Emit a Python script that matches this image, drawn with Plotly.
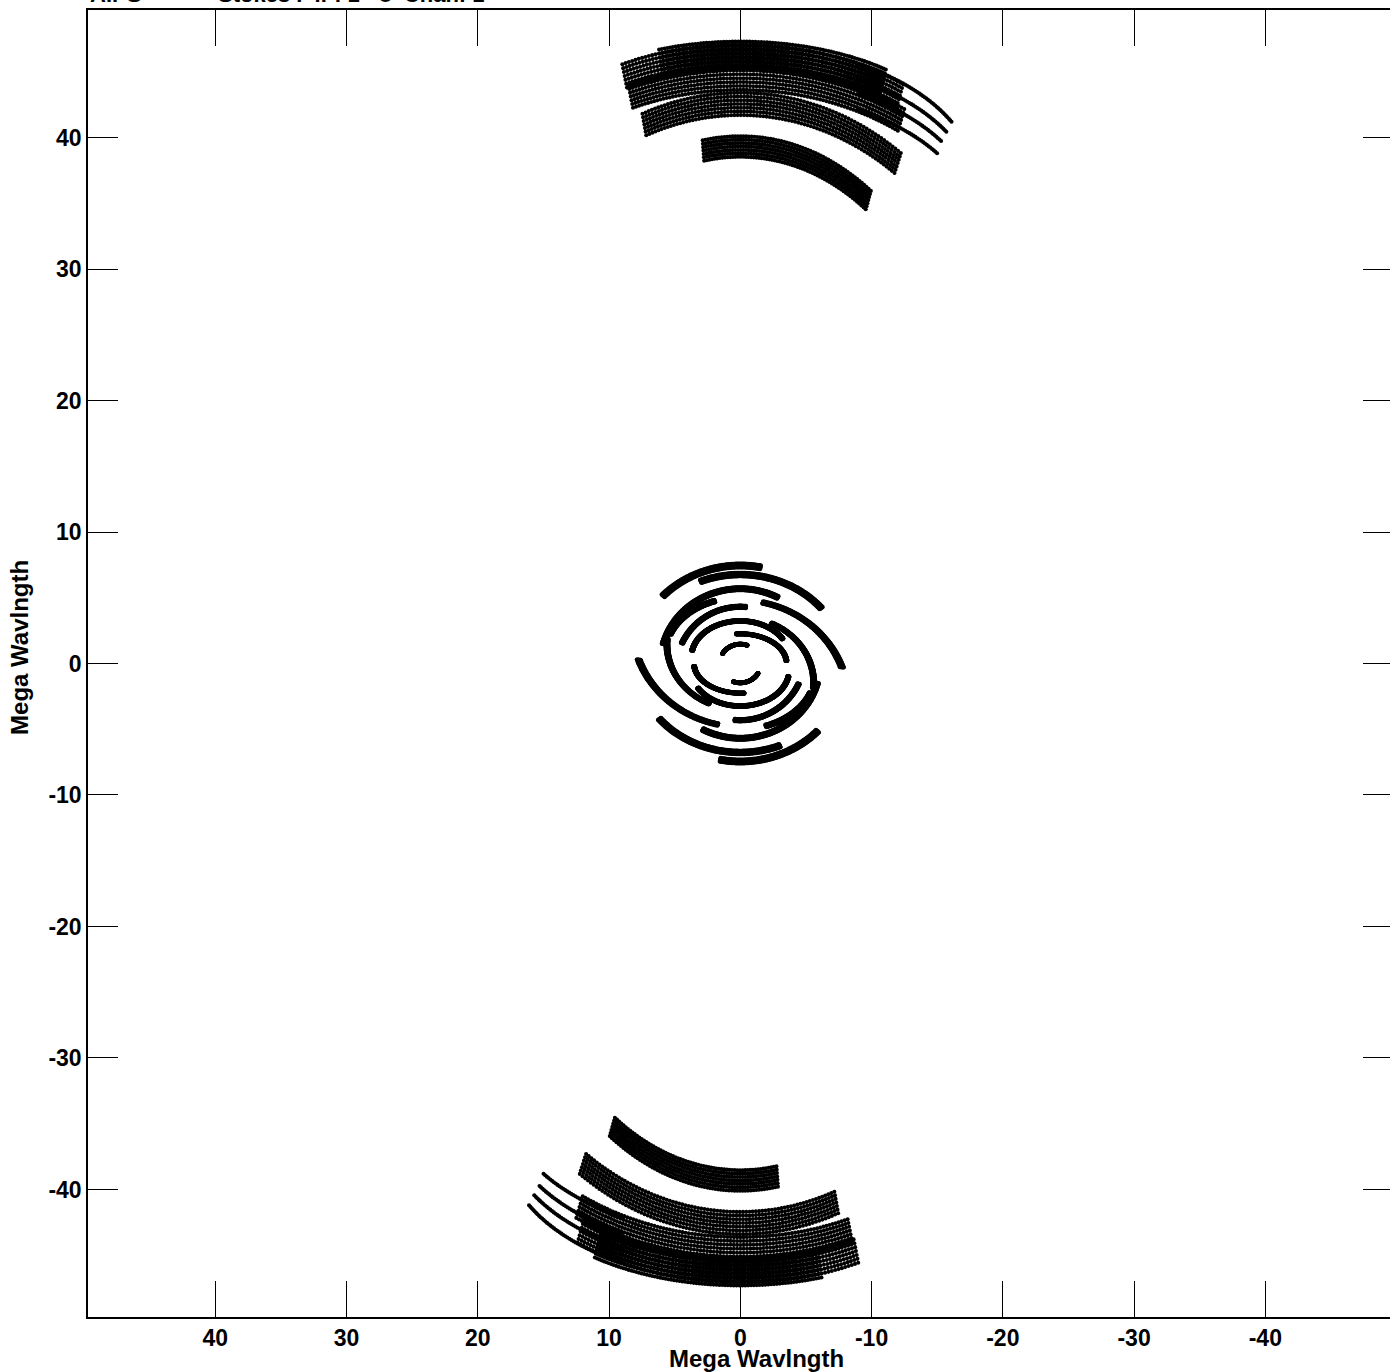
import numpy as np
import plotly.graph_objects as go

# ---------------- data ----------------
# relative channel frequencies (each baseline track is drawn once per channel, scaled)
CHAN_SCALE = [1.0, 0.9935, 0.987, 0.9805, 0.974, 0.9675, 0.961]

# baseline tracks (upper half; the conjugate point (-u,-v) is plotted too)
# ellipse: u = a*sin(h), v = vc + b*cos(h), h from h0 to h1 (deg), nch channels
TRACK_NAME = ["A", "B1", "B2", "C", "D", "T1", "T2", "T3", "T4",
              "c1", "c2", "c3", "c4", "c5", "c6", "c7", "c8", "c9", "c10"]
TRACK_VC = [37.3, 29.6, 28.9, 19.4, 18.1, 36.5, 35.3, 34.2, 33.0,
            0.2, -0.4, 3.0, 0.0, 1.5, -0.5, 0.5, 0.0, 0.0, -0.8]
TRACK_A = [18.0, 22.0, 21.0, 20.8, 17.0, 18.0, 18.0, 18.0, 18.0,
           8.2, 8.2, 8.4, 6.2, 5.7, 5.0, 3.8, 1.6, 3.6, 5.8]
TRACK_B = [10.0, 17.5, 16.5, 24.0, 22.0, 10.5, 10.5, 10.5, 10.5,
           7.4, 7.3, 7.9, 5.8, 5.1, 4.9, 2.8, 1.5, 2.3, 4.3]
TRACK_H0 = [20.1, 24.1, 23.9, 21.0, 9.7, -30.0, -30.0, -30.0, -30.0,
            -11.0, -50.0, 110.0, -28.0, 85.0, -5.0, -60.0, -20.0, 95.0, 200.0]
TRACK_H1 = [-38.0, -34.3, -36.5, -36.0, -35.8, -63.4, -60.7, -58.2, -56.4,
            47.0, 22.0, 168.0, 75.0, 155.0, 65.0, 80.0, 60.0, 185.0, 250.0]
TRACK_NCH = [7, 7, 7, 7, 7, 1, 1, 1, 1,
             7, 7, 7, 7, 7, 7, 7, 7, 7, 7]
SAMPLE_STEP_DEG = 0.7

X_TICKS = [40, 30, 20, 10, 0, -10, -20, -30, -40]
Y_TICKS = [40, 30, 20, 10, 0, -10, -20, -30, -40]
AXIS_TITLE = "Mega Wavlngth"
TOP_LEFT = "AIPS"
TOP_TEXT = "Stokes I  IF: 1 - 8  Chan: 1"

# ---------------- build points ----------------
us, vs = [], []
for vc, a, b, h0, h1, nch in zip(TRACK_VC, TRACK_A, TRACK_B, TRACK_H0, TRACK_H1, TRACK_NCH):
    n = int(abs(h1 - h0) / SAMPLE_STEP_DEG) + 1
    h = np.radians(np.linspace(h0, h1, n))
    for f in CHAN_SCALE[:nch]:
        u = f * a * np.sin(h)
        v = f * (vc + b * np.cos(h))
        us.append(u); vs.append(v)
        us.append(-u); vs.append(-v)
U = np.concatenate(us)
V = np.concatenate(vs)

FONT = "Liberation Sans, Arial, Helvetica, sans-serif"

fig = go.Figure()
fig.add_trace(go.Scatter(
    x=U, y=V, mode="markers",
    marker=dict(size=4.1, color="black", line=dict(width=0)),
    hoverinfo="skip", showlegend=False,
))

axis_common = dict(
    showgrid=False, zeroline=False, showline=True, linecolor="black", linewidth=1.5,
    mirror="ticks", ticks="inside", tickcolor="black", tickwidth=1,
    tickfont=dict(family=FONT, size=23, color="black", weight="bold"),
)
# the plot frame extends a few pixels past the right edge of the window, as in the reference
fig.update_layout(
    width=1395, height=1372,
    margin=dict(l=88, r=0, t=10, b=55),
    paper_bgcolor="white", plot_bgcolor="white",
    xaxis=dict(range=[49.7, -49.73], tickmode="array", tickvals=X_TICKS,
               ticktext=[str(t) for t in X_TICKS], ticklen=36, **axis_common),
    yaxis=dict(range=[-49.7, 49.7], tickmode="array", tickvals=Y_TICKS,
               ticktext=[str(t) for t in Y_TICKS], ticklen=30, **axis_common),
    annotations=[
        dict(text=AXIS_TITLE, xref="paper", yref="paper", x=0.5122, y=0,
             xanchor="center", yanchor="top", yshift=-26, showarrow=False,
             font=dict(family=FONT, size=24, color="black", weight="bold")),
        dict(text=AXIS_TITLE, xref="paper", yref="paper", x=-0.052, y=0.512,
             xanchor="center", yanchor="middle", textangle=-90, showarrow=False,
             font=dict(family=FONT, size=24, color="black", weight="bold")),
        dict(text=TOP_LEFT, xref="paper", yref="paper", x=0, y=1,
             xanchor="left", yanchor="bottom", yshift=1, showarrow=False,
             font=dict(family=FONT, size=22, color="black", weight="bold")),
        dict(text=TOP_TEXT, xref="paper", yref="paper", x=0.098, y=1,
             xanchor="left", yanchor="bottom", yshift=1, showarrow=False,
             font=dict(family=FONT, size=22, color="black", weight="bold")),
    ],
)
fig.write_html("out.html", config={"displayModeBar": False},
               post_script="document.body.style.margin='0';document.body.style.overflow='hidden';")
